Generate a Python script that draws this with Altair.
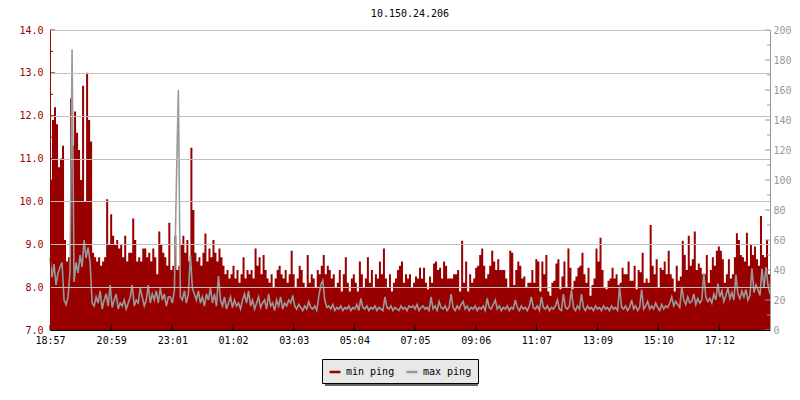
import altair as alt
import pandas as pd
from datetime import datetime, timedelta

title_text = "10.150.24.206"
series_names = ["min ping", "max ping"]
series_colors = ["#990000", "#999999"]
start_hm = (18, 57)
step_minutes = 4
span_minutes = 1436
x_labels = ["18:57", "20:59", "23:01", "01:02", "03:03", "05:04",
            "07:05", "09:06", "11:07", "13:09", "15:10", "17:12"]
left_major = [7.0, 8.0, 9.0, 10.0, 11.0, 12.0, 13.0, 14.0]
left_minor = [7.5, 8.5, 9.5, 10.5, 11.5, 12.5, 13.5]
right_major = [0, 20, 40, 60, 80, 100, 120, 140, 160, 180, 200]
right_minor = [10, 30, 50, 70, 90, 110, 130, 150, 170, 190]

# left axis (ms)
min_ping = [
    10.5, 11.9, 12.2, 11.8, 10.8, 11.0, 11.3, 9.1, 8.6, 8.7,
    12.4, 11.3, 12.1, 11.6, 11.2, 10.5, 12.7, 10.0, 13.0, 11.9,
    11.4, 8.8, 8.7, 8.6, 8.7, 8.5, 8.6, 8.7, 10.05, 9.0,
    9.7, 9.2, 9.0, 9.1, 8.9, 9.0, 8.7, 9.2, 8.6, 8.8,
    8.8, 9.6, 9.1, 8.6, 8.7, 8.6, 8.9, 8.9, 8.7, 8.8,
    8.6, 8.9, 8.7, 8.3, 9.3, 9.0, 8.8, 8.7, 8.5, 9.5,
    8.4, 8.5, 9.2, 8.4, 8.5, 9.0, 9.2, 8.8, 9.1, 8.6,
    11.25, 9.8, 8.8, 8.6, 8.7, 8.5, 8.8, 9.25, 8.6, 8.9,
    8.7, 9.1, 8.8, 8.6, 8.9, 8.7, 8.5, 8.3, 8.4, 8.2,
    8.3, 8.5, 8.2, 8.4, 8.1, 8.3, 8.7, 8.2, 8.4, 8.3,
    8.4, 8.2, 8.9, 8.5, 8.7, 8.3, 8.75, 8.4, 8.2, 8.1,
    8.3, 8.0, 8.2, 8.4, 8.5, 8.3, 8.2, 8.4, 8.1, 8.3,
    8.85, 8.3, 8.0, 8.2, 8.5, 8.4, 8.1, 8.0, 8.75, 8.1,
    8.3, 8.2, 8.0, 8.4, 8.3, 8.5, 8.75, 8.3, 8.5, 8.4,
    8.2, 8.3, 8.0, 8.1, 8.4, 7.9, 8.3, 8.7, 8.1, 7.9,
    8.2, 8.3, 8.1, 7.9, 8.6, 8.3, 8.0, 8.2, 8.7, 8.1,
    8.4, 8.0, 8.3, 8.2, 8.6, 8.3, 8.9, 8.2, 8.0, 8.3,
    7.9, 8.1, 8.2, 8.4, 8.5, 8.6, 8.1, 8.3, 8.2, 8.3,
    8.0, 8.1, 8.25, 8.2, 8.45, 8.2, 8.45, 8.1, 7.95, 8.25,
    8.1, 8.55, 8.6, 8.4, 8.45, 8.2, 8.6, 8.5, 8.2, 8.2,
    8.2, 8.3, 8.3, 8.4, 7.9, 9.08, 8.1, 8.6, 7.9, 8.3,
    8.1, 8.2, 8.45, 8.5, 8.75, 8.9, 8.5, 8.2, 8.3, 8.5,
    8.85, 8.6, 8.4, 8.65, 8.4, 8.4, 8.4, 8.2, 8.0, 8.85,
    8.8, 8.05, 8.4, 8.6, 8.5, 8.2, 8.25, 8.0, 8.1, 8.1,
    8.4, 8.1, 8.65, 8.6, 7.9, 8.6, 8.3, 8.75, 7.9, 7.8,
    8.1, 8.15, 8.55, 8.65, 7.95, 8.25, 8.6, 8.0, 8.9, 8.45,
    7.95, 8.15, 8.25, 8.45, 8.5, 8.8, 8.3, 8.1, 8.45, 7.8,
    8.05, 8.2, 8.9, 8.6, 9.15, 8.4, 8.0, 7.95, 8.15, 8.2,
    8.45, 8.2, 8.3, 8.05, 8.1, 8.45, 8.3, 8.3, 8.6, 8.15,
    8.15, 8.5, 7.95, 8.4, 8.35, 8.8, 8.1, 8.2, 8.1, 9.45,
    8.5, 8.3, 8.65, 8.0, 8.45, 8.4, 8.6, 8.3, 8.85, 8.3,
    8.2, 7.9, 8.5, 8.15, 8.25, 9.08, 8.75, 8.4, 9.2, 8.5,
    8.65, 9.3, 8.4, 8.55, 8.45, 8.3, 8.3, 8.75, 8.1, 8.4,
    8.7, 8.5, 8.85, 8.95, 8.85, 8.65, 8.1, 8.3, 8.65, 8.2,
    8.3, 8.7, 9.26, 9.1, 8.75, 8.7, 8.6, 9.27, 8.5, 9.0,
    8.75, 8.95, 8.65, 8.5, 9.66, 8.75, 8.7, 9.1, 8.3, 9.4,
]

# right axis (ms)
max_ping = [
    48, 35, 44, 30, 38, 42, 45, 20, 17, 22,
    40, 187, 32, 45, 38, 50, 42, 60, 48, 55,
    45, 18, 16, 22, 18, 26, 14, 20, 24, 16,
    30, 15, 20, 24, 14, 18, 16, 20, 14, 18,
    22, 30, 16, 20, 18, 28, 22, 16, 20, 30,
    18, 24, 20, 26, 18, 28, 20, 24, 16, 22,
    22, 18, 26, 96, 160, 22, 20, 26, 18, 24,
    50, 28, 24, 20, 26, 18, 22, 16, 24, 20,
    28, 18, 24, 16, 36, 20, 16, 22, 14, 18,
    22, 15, 20, 16, 18, 14, 20, 24, 18, 26,
    16, 20, 14, 18, 22, 15, 18, 20, 14, 24,
    16, 18, 13, 20, 16, 22, 14, 18, 16, 20,
    18, 23, 16, 14, 17, 15, 13, 16, 14, 19,
    15, 14, 16, 13, 22, 30, 33, 20, 15, 16,
    14, 17, 13, 15, 14, 16, 13, 15, 14, 16,
    13, 15, 14, 17, 13, 21, 15, 14, 16, 13,
    15, 14, 16, 13, 15, 14, 13, 22, 15, 14,
    16, 13, 15, 14, 13, 16, 14, 15, 13, 16,
    15, 16, 14, 17, 13, 15, 16, 14, 15, 13,
    22, 14, 16, 13, 19, 15, 14, 16, 13, 15,
    24, 15, 13, 16, 14, 17, 19, 14, 16, 13,
    15, 14, 16, 13, 15, 14, 16, 13, 21, 15,
    14, 17, 20, 14, 16, 13, 15, 14, 16, 13,
    15, 14, 20, 15, 13, 16, 14, 15, 13, 16,
    22, 15, 14, 16, 13, 22, 15, 14, 16, 13,
    15, 14, 16, 20, 14, 13, 24, 15, 14, 16,
    27, 15, 13, 16, 14, 24, 15, 13, 16, 14,
    15, 13, 16, 14, 15, 13, 16, 14, 15, 13,
    16, 14, 15, 13, 29, 15, 14, 16, 13, 15,
    20, 14, 16, 13, 15, 27, 14, 16, 19, 14,
    16, 14, 18, 15, 13, 17, 14, 16, 15, 18,
    22, 16, 19, 17, 15, 29, 20, 17, 22, 18,
    19, 24, 17, 21, 18, 20, 38, 22, 19, 21,
    18, 24, 20, 31, 22, 26, 19, 23, 28, 21,
    25, 20, 37, 24, 21, 26, 22, 27, 20, 23,
    41, 25, 30, 27, 23, 41, 28, 42, 30, 24,
]

MONO = "DejaVu Sans Mono"
RED, GREY = series_colors

t0 = datetime(2024, 1, 1, start_hm[0], start_hm[1])
df = pd.DataFrame({
    "t": [t0 + timedelta(minutes=step_minutes * i) for i in range(len(min_ping))],
    "minp": min_ping,
    "maxp": max_ping,
})


def to_dt(d):
    return alt.DateTime(year=d.year, month=d.month, date=d.day,
                        hours=d.hour, minutes=d.minute)


tick_times = []
for lab in x_labels:
    h, m = map(int, lab.split(":"))
    off = (h * 60 + m - (start_hm[0] * 60 + start_hm[1])) % 1440
    tick_times.append(t0 + timedelta(minutes=off))

x_scale = alt.Scale(domain=[to_dt(t0), to_dt(t0 + timedelta(minutes=span_minutes))])
x_axis = alt.Axis(values=[to_dt(t) for t in tick_times], format="%H:%M", title=None,
                  labelFont=MONO, labelFontSize=10, labelColor="black",
                  domainColor="black", ticks=False, labelPadding=5, grid=False,
                  labelAngle=0, labelFlush=False, labelOverlap=False, zindex=1)
X = alt.X("t:T", scale=x_scale, axis=x_axis)

left_scale = alt.Scale(domain=[7, 14], zero=False, nice=False)
left_axis = alt.Axis(values=left_major, format=".1f", title=None, orient="left",
                     labelFont=MONO, labelFontSize=10, labelColor=RED,
                     domainColor=RED, ticks=False, labelPadding=7,
                     grid=True, gridColor="#c0c0c0", zindex=1)
right_scale = alt.Scale(domain=[0, 200], nice=False)
right_axis = alt.Axis(values=right_major, format="d", title=None, orient="right",
                      labelFont=MONO, labelFontSize=10, labelColor=GREY,
                      domainColor=GREY, ticks=False, labelPadding=3, grid=False,
                      zindex=1)

red_area = alt.Chart(df).mark_area(interpolate="step-after", color=RED).encode(
    x=X,
    y=alt.Y("minp:Q", scale=left_scale, axis=left_axis),
    y2=alt.datum(7),
)

lmaj = alt.Chart(pd.DataFrame({"v": left_major})).mark_rule(color=RED).encode(
    y=alt.Y("v:Q", scale=left_scale, axis=left_axis), x=alt.value(0), x2=alt.value(5))
lmin = alt.Chart(pd.DataFrame({"v": left_minor})).mark_rule(color=RED).encode(
    y=alt.Y("v:Q", scale=left_scale, axis=left_axis), x=alt.value(0), x2=alt.value(3))
xt = alt.Chart(pd.DataFrame({"t": tick_times})).mark_rule(color="black").encode(
    x=X, y=alt.value(300), y2=alt.value(295))

legend = alt.Legend(orient="none", legendX=272, legendY=329, direction="horizontal",
                    title=None, fillColor="#e8e8e8", strokeColor="black", padding=6,
                    labelFont=MONO, labelFontSize=10, labelColor="black",
                    symbolType="stroke", symbolSize=121, symbolStrokeWidth=2.5,
                    columnPadding=6, labelOffset=4,
                    labelExpr="datum.value == 'max ping' ? datum.label + '  ' : datum.label")

grey_line = alt.Chart(df).transform_calculate(series="'max ping'").mark_line(
    interpolate="linear", strokeWidth=1.6).encode(
    x=X,
    y=alt.Y("maxp:Q", scale=right_scale, axis=right_axis),
    color=alt.Color("series:N",
                    scale=alt.Scale(domain=series_names, range=series_colors),
                    legend=legend),
)
rmaj = alt.Chart(pd.DataFrame({"v": right_major})).mark_rule(color=GREY).encode(
    y=alt.Y("v:Q", scale=right_scale, axis=right_axis), x=alt.value(715), x2=alt.value(720))
rmin = alt.Chart(pd.DataFrame({"v": right_minor})).mark_rule(color=GREY).encode(
    y=alt.Y("v:Q", scale=right_scale, axis=right_axis), x=alt.value(717), x2=alt.value(720))

shadow = alt.Chart(pd.DataFrame({"k": [0]})).mark_rect(color="#666666").encode(
    x=alt.value(275), x2=alt.value(428), y=alt.value(332), y2=alt.value(356))

left = alt.layer(red_area, lmaj, lmin, xt)
right = alt.layer(grey_line, rmaj, rmin)

chart = alt.layer(shadow, left, right).resolve_scale(y="independent").properties(
    width=720, height=300,
    autosize=alt.AutoSizeParams(type="none"),
    padding={"left": 42, "top": 22, "right": 22, "bottom": 62},
    title=alt.Title(title_text, font=MONO, fontSize=10, fontWeight="normal",
                    color="black", anchor="middle", offset=6),
).configure_view(stroke=None).configure(background="white")

chart.save("out.html", embed_options={"renderer": "svg", "actions": False})
